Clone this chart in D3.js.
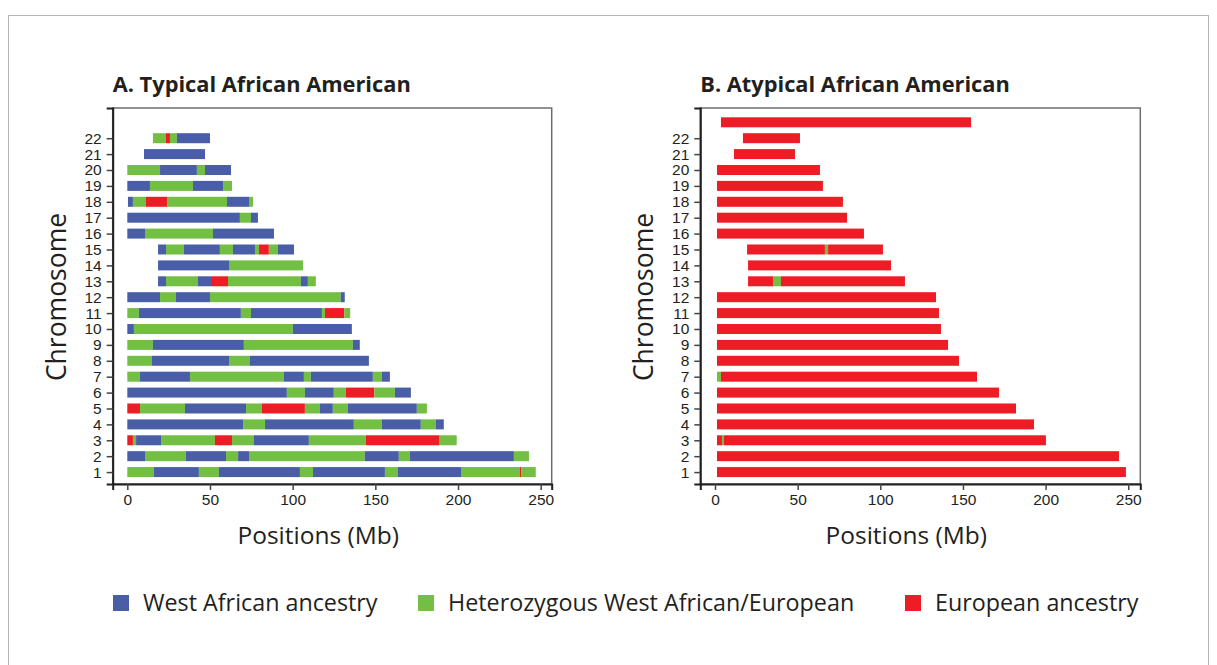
<!DOCTYPE html>
<html>
<head>
<meta charset="utf-8">
<script src="https://cdn.jsdelivr.net/npm/d3@7"></script>
<style>
  body { margin: 0; background: #fff; }
  svg { font-family: "Open Sans", "Noto Sans", sans-serif; }
</style>
</head>
<body>
<div id="chart"></div>
<script>
const W = 1217, H = 665;

// chromosome rows (row 23 = X, drawn but not labelled)
const chromLabels = ["1","2","3","4","5","6","7","8","9","10","11","12","13","14","15","16","17","18","19","20","21","22"];
const xTicks = [0, 50, 100, 150, 200, 250];

// W = West African, H = heterozygous, E = European
const legendKeys = ["W", "H", "E"];
const legendLabels = ["West African ancestry", "Heterozygous West African/European", "European ancestry"];
const colors = { W: "#4a5ea8", H: "#72bf44", E: "#ee1c25" };

// [chromosome row, start Mb, end Mb, ancestry]
const typicalSegments = [
  [1, 0, 16.1, "H"], [1, 16.1, 43.3, "W"], [1, 43.3, 55.4, "H"], [1, 55.4, 104.4, "W"], [1, 104.4, 112.3, "H"],
  [1, 112.3, 155.8, "W"], [1, 155.8, 163.7, "H"], [1, 163.7, 201.8, "W"], [1, 201.8, 237.4, "H"], [1, 237.4, 238.2, "E"], [1, 238.2, 247, "H"],
  [2, 0, 10.7, "W"], [2, 10.7, 35.5, "H"], [2, 35.5, 59.7, "W"], [2, 59.7, 67, "H"], [2, 67, 73.6, "W"],
  [2, 73.6, 143.6, "H"], [2, 143.6, 164.2, "W"], [2, 164.2, 170.9, "H"], [2, 170.9, 233.8, "W"], [2, 233.8, 242.9, "H"],
  [3, 0, 3.4, "E"], [3, 3.4, 5.3, "H"], [3, 5.3, 20.4, "W"], [3, 20.4, 53, "H"], [3, 53, 63.3, "E"],
  [3, 63.3, 76.6, "H"], [3, 76.6, 109.8, "W"], [3, 109.8, 144.3, "H"], [3, 144.3, 188.9, "E"], [3, 188.9, 199.2, "H"],
  [4, 0, 70, "W"], [4, 70, 83.3, "H"], [4, 83.3, 137, "W"], [4, 137, 153.9, "H"], [4, 153.9, 177.5, "W"], [4, 177.5, 186.6, "H"], [4, 186.6, 191.4, "W"],
  [5, 0, 7.7, "E"], [5, 7.7, 34.9, "H"], [5, 34.9, 71.8, "W"], [5, 71.8, 81.4, "H"], [5, 81.4, 107.4, "E"],
  [5, 107.4, 116.5, "H"], [5, 116.5, 124.3, "W"], [5, 124.3, 133.4, "H"], [5, 133.4, 175.1, "W"], [5, 175.1, 181.2, "H"],
  [6, 0, 96.5, "W"], [6, 96.5, 107.4, "H"], [6, 107.4, 124.9, "W"], [6, 124.9, 132.1, "H"], [6, 132.1, 149.4, "E"], [6, 149.4, 161.8, "H"], [6, 161.8, 171.5, "W"],
  [7, 0, 7.7, "H"], [7, 7.7, 37.9, "W"], [7, 37.9, 94.7, "H"], [7, 94.7, 106.8, "W"], [7, 106.8, 111, "H"], [7, 111, 148.5, "W"], [7, 148.5, 153.9, "H"], [7, 153.9, 158.8, "W"],
  [8, 0, 14.9, "H"], [8, 14.9, 61.5, "W"], [8, 61.5, 74.2, "H"], [8, 74.2, 146.1, "W"],
  [9, 0, 15.5, "H"], [9, 15.5, 70.5, "W"], [9, 70.5, 136.4, "H"], [9, 136.4, 140.6, "W"],
  [10, 0, 4, "W"], [10, 4, 100.1, "H"], [10, 100.1, 135.8, "W"],
  [11, 0, 7, "H"], [11, 7, 68.7, "W"], [11, 68.7, 74.8, "H"], [11, 74.8, 117.7, "W"], [11, 117.7, 119.5, "H"], [11, 119.5, 131.2, "E"], [11, 131.2, 134.8, "H"],
  [12, 0, 19.8, "W"], [12, 19.8, 29.4, "H"], [12, 29.4, 50, "W"], [12, 50, 129.1, "H"], [12, 129.1, 131.5, "W"],
  [13, 18.6, 23.4, "W"], [13, 23.4, 42.7, "H"], [13, 42.7, 50.6, "W"], [13, 50.6, 60.9, "E"], [13, 60.9, 105, "H"], [13, 105, 109.2, "W"], [13, 109.2, 114, "H"],
  [14, 18.6, 61.5, "W"], [14, 61.5, 106.3, "H"],
  [15, 18.6, 23.4, "W"], [15, 23.4, 34.3, "H"], [15, 34.3, 56, "W"], [15, 56, 63.9, "H"], [15, 63.9, 77.2, "W"],
  [15, 77.2, 79.6, "H"], [15, 79.6, 85.6, "E"], [15, 85.6, 91.1, "H"], [15, 91.1, 100.8, "W"],
  [16, 0, 10.7, "W"], [16, 10.7, 51.8, "H"], [16, 51.8, 88.7, "W"],
  [17, 0, 68.1, "W"], [17, 68.1, 74.8, "H"], [17, 74.8, 79, "W"],
  [18, 0.4, 3.4, "W"], [18, 3.4, 11.3, "H"], [18, 11.3, 24, "E"], [18, 24, 60.3, "H"], [18, 60.3, 73.6, "W"], [18, 73.6, 76, "H"],
  [19, 0, 13.7, "W"], [19, 13.7, 39.7, "H"], [19, 39.7, 57.9, "W"], [19, 57.9, 63.3, "H"],
  [20, 0, 19.8, "H"], [20, 19.8, 42.1, "W"], [20, 42.1, 47, "H"], [20, 47, 62.7, "W"],
  [21, 10.1, 47, "W"],
  [22, 15.5, 23.4, "H"], [22, 23.4, 25.8, "E"], [22, 25.8, 30, "H"], [22, 30, 50, "W"]
];

const atypicalSegments = [
  [1, 1.2, 248.6, "E"], [2, 1.2, 244.4, "E"],
  [3, 1.2, 4.2, "E"], [3, 4.2, 5.4, "H"], [3, 5.4, 200.2, "E"],
  [4, 1.2, 193, "E"], [5, 1.2, 182.1, "E"], [6, 1.2, 171.8, "E"],
  [7, 1.2, 3.6, "H"], [7, 3.6, 158.5, "E"],
  [8, 1.2, 147.6, "E"], [9, 1.2, 141, "E"], [10, 1.2, 136.7, "E"], [11, 1.2, 135.5, "E"], [12, 1.2, 133.7, "E"],
  [13, 20, 35.1, "E"], [13, 35.1, 39.9, "H"], [13, 39.9, 114.9, "E"],
  [14, 20, 106.5, "E"],
  [15, 19.4, 66.5, "E"], [15, 66.5, 68.4, "H"], [15, 68.4, 101.6, "E"],
  [16, 1.2, 90.1, "E"], [17, 1.2, 79.9, "E"], [18, 1.2, 77.4, "E"], [19, 1.2, 65.3, "E"], [20, 1.2, 63.5, "E"],
  [21, 11.5, 48.4, "E"], [22, 16.9, 51.4, "E"],
  [23, 3.6, 154.9, "E"]
];

const svg = d3.select("#chart").append("svg").attr("width", W).attr("height", H);
const ink = "#231f20";

// outer figure border
svg.append("rect")
  .attr("x", 8.5).attr("y", 15.5).attr("width", 1200).attr("height", 700)
  .attr("fill", "none").attr("stroke", "#b5b5b5").attr("stroke-width", 1);

function drawPanel(left, right, title, segments, domainX) {
  const top = 108, bottom = 484;
  const x = d3.scaleLinear().domain(domainX).range([left, right]);
  const y = d3.scaleLinear().domain([0.25, 23.9]).range([bottom, top]);
  const g = svg.append("g");

  // frame
  g.append("rect")
    .attr("x", left).attr("y", top).attr("width", right - left).attr("height", bottom - top)
    .attr("fill", "none").attr("stroke", "#6d6d6d").attr("stroke-width", 1.5);

  // bars
  g.append("g").selectAll("rect")
    .data(segments)
    .enter()
    .append("rect")
    .attr("x", d => x(d[1]))
    .attr("width", d => x(d[2]) - x(d[1]))
    .attr("y", d => y(d[0]) - 5)
    .attr("height", 10)
    .attr("fill", d => colors[d[3]]);

  // y axis
  const yAxis = g.append("g")
    .attr("transform", "translate(" + left + ",0)")
    .call(d3.axisLeft(y).tickValues(chromLabels.map(Number)).tickSize(6).tickPadding(5));
  yAxis.select(".domain").attr("stroke", ink).attr("stroke-width", 2);
  yAxis.selectAll(".tick line").attr("stroke", "#444").attr("stroke-width", 1.5);
  yAxis.selectAll("text").attr("fill", ink).style("font-size", "15.5px");

  // x axis
  const xAxis = g.append("g")
    .attr("transform", "translate(0," + bottom + ")")
    .call(d3.axisBottom(x).tickValues(xTicks).tickSize(6).tickPadding(4));
  xAxis.select(".domain").attr("stroke", ink).attr("stroke-width", 2);
  xAxis.selectAll(".tick line").attr("stroke", "#444").attr("stroke-width", 1.5);
  xAxis.selectAll("text").attr("fill", ink).style("font-size", "15.5px");

  g.append("text")
    .attr("x", left).attr("y", 92)
    .attr("fill", ink)
    .style("font-size", "21.8px").style("font-weight", "700")
    .text(title);

  g.append("text")
    .attr("x", (left + right) / 2 - 14).attr("y", 544)
    .attr("text-anchor", "middle").attr("fill", ink)
    .style("font-size", "24.5px")
    .text("Positions (Mb)");

  g.append("text")
    .attr("transform", "translate(" + (left - 47) + "," + 297 + ") rotate(-90)")
    .attr("text-anchor", "middle").attr("fill", ink)
    .style("font-size", "26.5px")
    .text("Chromosome");
}

drawPanel(112.7, 551.7, "A. Typical African American", typicalSegments, [-8.83, 256.65]);
drawPanel(700.3, 1140.3, "B. Atypical African American", atypicalSegments, [-8.9, 257.3]);

// legend
const legendX = [113, 418, 905];
const legend = svg.append("g");
legendKeys.forEach(function (k, i) {
  legend.append("rect")
    .attr("x", legendX[i]).attr("y", 595).attr("width", 16).attr("height", 16)
    .attr("fill", colors[k]);
  legend.append("text")
    .attr("x", legendX[i] + 30).attr("y", 611)
    .attr("fill", ink)
    .style("font-size", "23.3px")
    .text(legendLabels[i]);
});
</script>
</body>
</html>
